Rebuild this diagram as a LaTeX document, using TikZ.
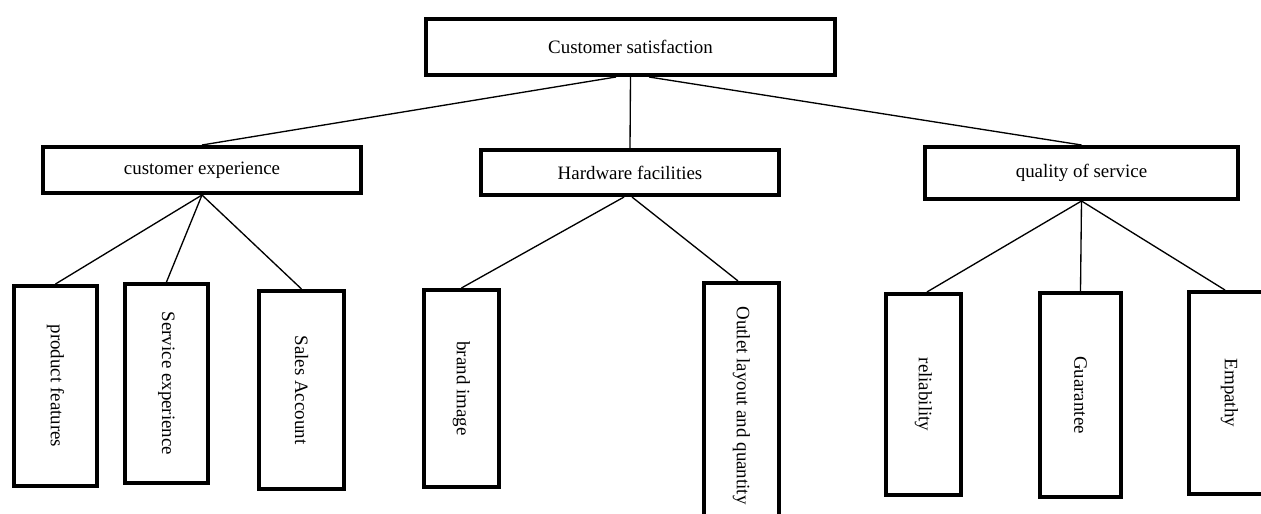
\documentclass[tikz,border=0pt]{standalone}
\usepackage{fontspec}
\setmainfont{Liberation Serif}
\usepackage{tikz}

\begin{document}
\begin{tikzpicture}[x=0.75pt,y=-0.75pt,
  bx/.style={draw,line width=2.8pt,fill=white,inner sep=0pt,font=\fontsize{14.2}{17}\selectfont},
  ln/.style={line width=1pt},
]
\clip (0,0) rectangle (1261,514);
% top box
\node[bx,minimum width=307pt,minimum height=42.2pt] (cs) at (630.5,47) {Customer satisfaction};
% second level
\node[bx,minimum width=238.7pt,minimum height=34.7pt] (ce) at (202,170) {customer experience};
\node[bx,minimum width=223.7pt,minimum height=34pt] (hw) at (630,172.5) {Hardware facilities};
\node[bx,minimum width=235pt,minimum height=39.2pt] (qs) at (1081.5,173) {quality of service};
% bottom boxes (vertical text)
\node[bx,minimum width=62.5pt,minimum height=150.2pt] (pf) at (55.5,386) {\rotatebox{-90}{product features}};
\node[bx,minimum width=62.5pt,minimum height=149.5pt] (se) at (166.5,383.5) {\rotatebox{-90}{Service experience}};
\node[bx,minimum width=64pt,minimum height=148.7pt] (sa) at (301.5,390) {\rotatebox{-90}{Sales Account}};
\node[bx,minimum width=56.5pt,minimum height=148pt] (bi) at (461.5,388.5) {\rotatebox{-90}{brand image}};
\node[bx,minimum width=56.5pt,minimum height=184pt] (ol) at (741.5,405.5) {\rotatebox{-90}{Outlet layout and quantity}};
\node[bx,minimum width=56.5pt,minimum height=151pt] (re) at (923.5,394.5) {\rotatebox{-90}{reliability}};
\node[bx,minimum width=61pt,minimum height=153.2pt] (gu) at (1080.5,395) {\rotatebox{-90}{Guarantee}};
\node[bx,minimum width=61pt,minimum height=151.7pt] (em) at (1229.5,393) {\rotatebox{-90}{Empathy}};
% connectors
\draw[ln] ([xshift=-10.9pt]cs.south) -- (ce.north);
\draw[ln] (cs.south) -- (hw.north);
\draw[ln] ([xshift=13.9pt]cs.south) -- (qs.north);
\foreach \c in {pf,se,sa}{ \draw[ln] (ce.south) -- (\c.north);}
\draw[ln] ([xshift=-4.5pt]hw.south) -- (bi.north);
\draw[ln] ([xshift=1.5pt]hw.south) -- ([xshift=-2.6pt]ol.north);
\draw[ln] (qs.south) -- ([xshift=2.6pt]re.north);
\draw[ln] (qs.south) -- (gu.north);
\draw[ln] (qs.south) -- ([xshift=-3.4pt]em.north);
\end{tikzpicture}
\end{document}
